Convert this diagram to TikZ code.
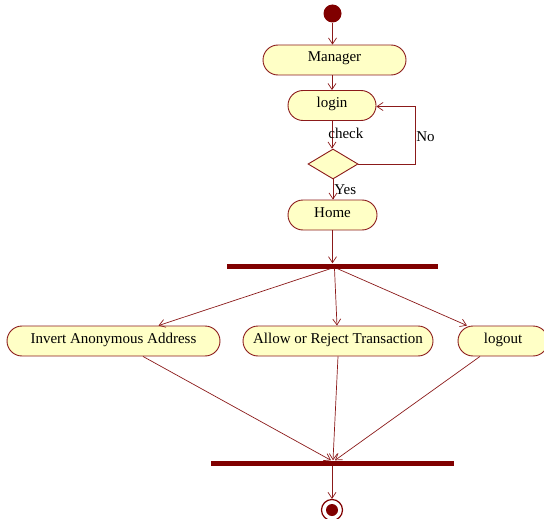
\documentclass[tikz,border=0pt]{standalone}
\usepackage{fontspec}
\setmainfont{Liberation Serif}
\usetikzlibrary{arrows.meta,shapes.geometric}
\definecolor{umlred}{HTML}{8B1A1A}
\definecolor{umlbar}{HTML}{800000}
\definecolor{umlfill}{HTML}{FFFFC6}
\begin{document}
\begin{tikzpicture}[x=1pt,y=-1pt,
  action/.style={draw=umlred, fill=umlfill, line width=0.9pt, rounded corners=15pt,
    minimum height=30pt, inner sep=0pt, text height=10pt, text depth=6pt,
    font=\fontsize{15}{17}\selectfont},
  decision/.style={draw=umlred, fill=umlfill, line width=0.9pt, diamond, aspect=1.67,
    minimum width=50pt, minimum height=30pt, inner sep=0pt},
  syncbar/.style={fill=umlbar, inner sep=0pt, minimum height=5pt},
  flow/.style={draw=umlred, line width=0.7pt, -{Straight Barb[length=6pt,width=8pt]}},
  guard/.style={font=\fontsize{15}{17}\selectfont, inner sep=0pt}]
\useasboundingbox (0,0) rectangle (544,519);

% start and end states
\node[circle, fill=umlbar, minimum size=18pt, inner sep=0pt] (start) at (332.5,13.5) {};
\node[circle, draw=umlbar, fill=white, line width=1.2pt, minimum size=21pt, inner sep=0pt] (stop) at (332,510) {};
\node[circle, fill=umlbar, minimum size=12pt, inner sep=0pt] (stopdot) at (332,510) {};

% actions
\node[action, minimum width=143pt] (man) at (334.5,60) {Manager};
\node[action, minimum width=88pt] (login) at (332,105.5) {login};
\node[decision] (dec) at (333,164) {};
\node[action, minimum width=89pt] (home) at (332.5,215) {Home};
\node[action, minimum width=213pt] (inv) at (113.5,341) {Invert Anonymous Address};
\node[action, minimum width=190pt] (allow) at (338,341) {Allow or Reject Transaction};
\node[action, minimum width=90pt] (logout) at (503,341) {logout};

% fork and join bars
\node[syncbar, minimum width=211pt] (fork) at (332.5,266) {};
\node[syncbar, minimum width=243pt] (join) at (332.5,463) {};

% main flow
\draw[flow] (start) -- (start |- man.north);
\draw[flow] (man.south -| login) -- (login.north);
\draw[flow] (login.south) -- (login.south |- dec.north)
  node[guard, pos=0.45, right=-4pt] {check};
\draw[flow] (dec.south) -- (dec.south |- home.north)
  node[guard, pos=0.5, right=1pt] {Yes};
\coordinate (loopA) at (415,164);
\coordinate (loopB) at (415,106.5);
\draw[flow] (dec.east) -- (loopA) -- (loopB)
  node[guard, pos=0.47, right=1pt] {No} -- (loopB -| login.east);
\draw[flow] (home.south) -- (fork.north -| home.south);

% fork to parallel actions
\draw[flow] ([xshift=-2pt]fork.south) -- ([xshift=45pt]inv.north);
\draw[flow] ([xshift=2pt]fork.south) -- ([xshift=-1pt]allow.north);
\draw[flow] ([xshift=5pt]fork.south) -- ([xshift=-36pt]logout.north);

% parallel actions to join
\draw[flow] ([xshift=29.5pt]inv.south) -- ([xshift=-1.5pt]join.north);
\draw[flow] (allow.south) -- ([xshift=0.5pt]join.north);
\draw[flow] ([xshift=-23pt]logout.south) -- ([xshift=2.5pt]join.north);

% join to end state
\draw[flow] (join.south -| stop) -- (stop.north);
\end{tikzpicture}
\end{document}
